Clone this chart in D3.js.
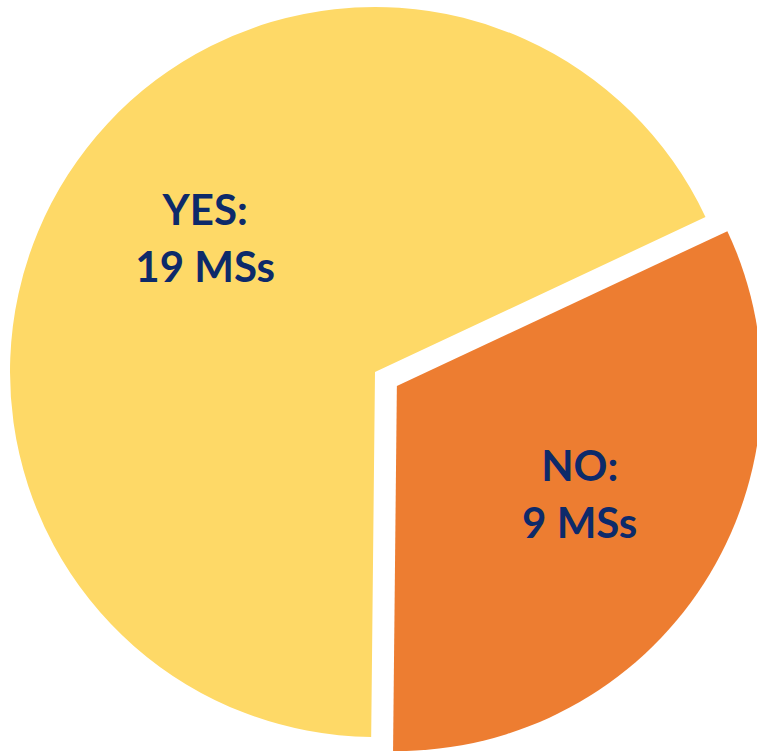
<!DOCTYPE html>
<html lang="en"><head>
  <meta charset="utf-8">
  <title>Pie</title>
  <script src="https://cdn.jsdelivr.net/npm/d3@7/dist/d3.min.js"></script>
  <style>
   body { margin: 0; background: white; }
  </style>
</head>
<body>
  <script type="text/javascript">
   var categories = ["YES", "NO"];
   var values = [19, 9];
   var labels = ["MSs", "MSs"];
   var colors = ["#fed967", "#ed7d31"];

   var width = 757;
   var height = 752;
   var cx = 375, cy = 372;
   var radius = 365;
   var explode = [0, 26];       // only NO is pulled out
   var labelRadius = 215;
   var nudge = [[11, -18], [2, -8]];

   var svg = d3.select("body").append("svg")
               .attr("width", width)
               .attr("height", height);

   var start = 180.6 * Math.PI / 180;
   var pie = d3.pie().sort(null)
               .startAngle(start)
               .endAngle(start + 2 * Math.PI);
   var arcs = pie(values);

   var arc = d3.arc().innerRadius(0).outerRadius(radius);
   var labelArc = d3.arc().innerRadius(labelRadius).outerRadius(labelRadius);

   var g = svg.append("g")
              .attr("transform", "translate(" + cx + "," + cy + ")");

   var slice = g.selectAll(".slice")
                .data(arcs)
                .enter()
                .append("g")
                .attr("class", "slice")
                .attr("transform", function(d, i) {
                  var mid = (d.startAngle + d.endAngle) / 2;
                  var e = explode[i];
                  return "translate(" + (Math.sin(mid) * e) + "," + (-Math.cos(mid) * e) + ")";
                });

   slice.append("path")
        .attr("d", arc)
        .attr("fill", function(d, i) { return colors[i]; });

   var text = slice.append("text")
        .attr("text-anchor", "middle")
        .attr("font-family", "Lato, 'Open Sans', sans-serif")
        .attr("font-weight", "bold")
        .attr("font-size", 42)
        .attr("fill", "#0d2a6a")
        .attr("transform", function(d, i) {
          var c = labelArc.centroid(d);
          return "translate(" + (c[0] + nudge[i][0]) + "," + (c[1] + nudge[i][1]) + ")";
        });

   text.append("tspan")
       .attr("x", 0)
       .attr("y", -13)
       .text(function(d, i) { return categories[i] + ":"; });

   text.append("tspan")
       .attr("x", 0)
       .attr("y", 44)
       .text(function(d, i) { return values[i] + " " + labels[i]; });
  </script>
</body></html>
